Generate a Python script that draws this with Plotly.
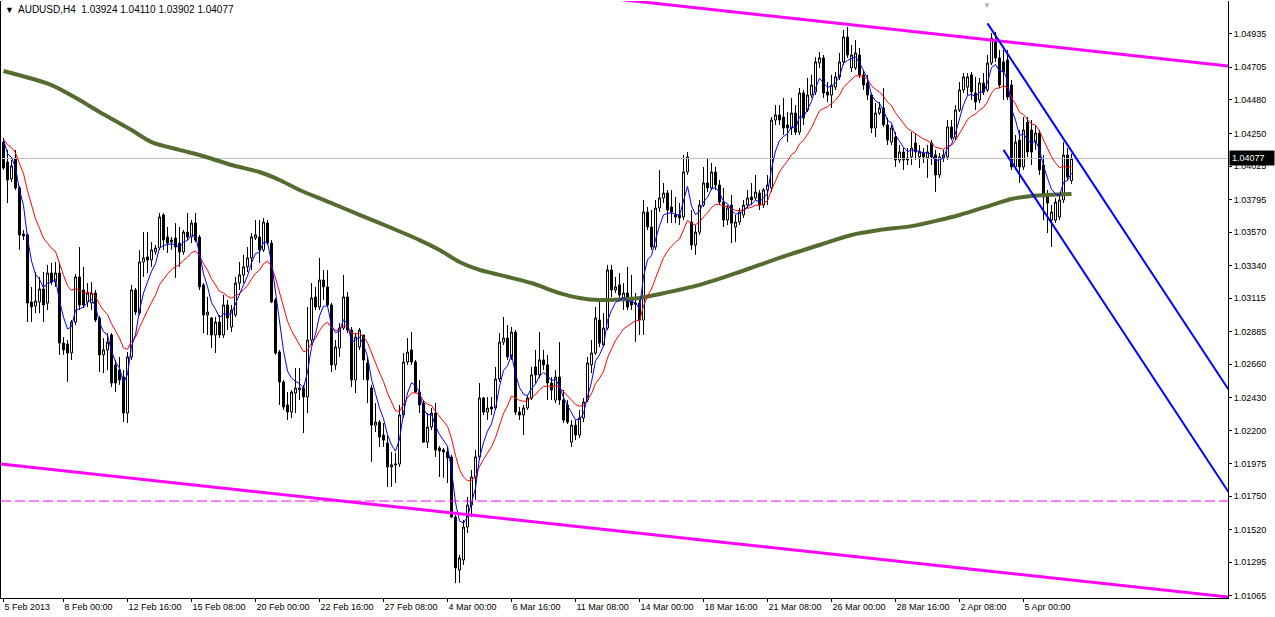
import plotly.graph_objects as go

# ---------------- data (AUDUSD H4, prices) ----------------
opens = [1.04190,1.04053,1.03936,1.04081,1.03874,1.03556,1.03550,1.03088,1.03061,1.03088,
1.03178,1.03081,1.03288,1.03226,1.03288,1.02805,1.02798,1.02737,1.02950,1.03261,
1.03171,1.03088,1.03081,1.03150,1.02978,1.02724,1.02758,1.02861,1.02655,1.02620,
1.02572,1.02323,1.02710,1.03171,1.03012,1.03364,1.03399,1.03378,1.03433,1.03460,
1.03688,1.03536,1.03515,1.03529,1.03494,1.03433,1.03570,1.03536,1.03632,1.03536,
1.03206,1.02999,1.02978,1.02861,1.02950,1.02861,1.03068,1.02916,1.02999,1.03219,
1.03275,1.03330,1.03392,1.03529,1.03536,1.03447,1.03632,1.03494,1.03102,1.02744,
1.02537,1.02379,1.02330,1.02461,1.02482,1.02496,1.02434,1.02826,1.03123,1.03054,
1.03240,1.03192,1.03068,1.02655,1.02771,1.02909,1.03123,1.02895,1.02551,1.02778,
1.02861,1.02668,1.02496,1.02240,1.02261,1.02172,1.02117,1.01952,1.01966,1.01972,
1.02310,1.02675,1.02758,1.02675,1.02468,1.02392,1.02123,1.02227,1.02323,1.02082,
1.02069,1.02055,1.02021,1.01607,1.01242,1.01311,1.01538,1.01690,1.01883,1.02021,
1.02427,1.02330,1.02365,1.02358,1.02558,1.02812,1.02840,1.02710,1.02881,1.02330,
1.02310,1.02358,1.02427,1.02641,1.02586,1.02689,1.02655,1.02530,1.02413,1.02572,
1.02413,1.02379,1.02123,1.02240,1.02172,1.02289,1.02413,1.02655,1.02737,1.02964,
1.02792,1.02909,1.03309,1.03171,1.03206,1.03102,1.03150,1.03102,1.03081,1.03081,
1.02964,1.03708,1.03605,1.03467,1.03736,1.03805,1.03839,1.03743,1.03688,1.03688,
1.03674,1.03984,1.03639,1.03481,1.03570,1.03756,1.03908,1.03874,1.03984,1.03894,
1.03777,1.03653,1.03756,1.03605,1.03639,1.03688,1.03756,1.03812,1.03805,1.03839,
1.03756,1.03860,1.03874,1.04342,1.04377,1.04363,1.04308,1.04287,1.04390,1.04259,
1.04528,1.04411,1.04514,1.04535,1.04735,1.04770,1.04535,1.04514,1.04569,1.04639,
1.04742,1.04914,1.04701,1.04701,1.04790,1.04653,1.04597,1.04514,1.04287,1.04390,
1.04425,1.04308,1.04190,1.04225,1.04067,1.04122,1.04081,1.04088,1.04184,1.04088,
1.04115,1.04081,1.04184,1.04101,1.03963,1.04081,1.04088,1.04294,1.04225,1.04411,
1.04549,1.04569,1.04653,1.04528,1.04480,1.04597,1.04549,1.04735,1.04893,1.04770,
1.04742,1.04756,1.04583,1.04019,1.04204,1.04019,1.04328,1.04273,1.04190,1.04252,
1.04032,1.03812,1.03653,1.03653,1.03674,1.03791,1.04101,1.03924]

highs = [1.04218,1.04136,1.04067,1.04136,1.03888,1.03584,1.03563,1.03192,1.03295,1.03261,
1.03295,1.03344,1.03357,1.03364,1.03364,1.02847,1.02826,1.02964,1.03281,1.03467,
1.03330,1.03219,1.03226,1.03171,1.02992,1.02840,1.02874,1.02874,1.02689,1.02710,
1.02620,1.02744,1.03206,1.03185,1.03447,1.03570,1.03570,1.03501,1.03481,1.03701,
1.03701,1.03605,1.03536,1.03632,1.03605,1.03584,1.03701,1.03653,1.03701,1.03550,
1.03219,1.03123,1.02985,1.02985,1.02999,1.03137,1.03102,1.03068,1.03261,1.03364,
1.03413,1.03467,1.03563,1.03653,1.03653,1.03667,1.03653,1.03515,1.03116,1.02758,
1.02551,1.02468,1.02482,1.02634,1.02634,1.02517,1.03054,1.03219,1.03192,1.03392,
1.03309,1.03309,1.03081,1.02826,1.02943,1.03275,1.03157,1.02916,1.02874,1.02909,
1.02861,1.02710,1.02517,1.02392,1.02275,1.02254,1.02172,1.02055,1.02048,1.02379,
1.02737,1.02840,1.02881,1.02689,1.02551,1.02413,1.02323,1.02358,1.02392,1.02096,
1.02082,1.02089,1.02034,1.01620,1.01346,1.01586,1.01745,1.01931,1.02069,1.02530,
1.02434,1.02434,1.02434,1.02641,1.02874,1.02985,1.02930,1.02916,1.02895,1.02365,
1.02379,1.02448,1.02641,1.02758,1.02881,1.02758,1.02724,1.02572,1.02620,1.02812,
1.02482,1.02413,1.02275,1.02275,1.02344,1.02427,1.02710,1.02826,1.03054,1.03088,
1.03012,1.03344,1.03344,1.03261,1.03288,1.03219,1.03330,1.03275,1.03150,1.03123,
1.03791,1.03743,1.03722,1.03791,1.03998,1.03908,1.03860,1.03860,1.03812,1.03770,
1.04101,1.04122,1.03722,1.03619,1.03791,1.04019,1.04081,1.04046,1.04019,1.03929,
1.03874,1.03756,1.03825,1.03688,1.03736,1.03791,1.03860,1.03908,1.03963,1.03860,
1.03874,1.03963,1.04363,1.04445,1.04445,1.04494,1.04397,1.04494,1.04445,1.04563,
1.04549,1.04632,1.04653,1.04776,1.04811,1.04790,1.04604,1.04653,1.04673,1.04804,
1.04962,1.04983,1.04859,1.04893,1.04838,1.04687,1.04653,1.04528,1.04459,1.04466,
1.04563,1.04356,1.04308,1.04259,1.04170,1.04149,1.04149,1.04259,1.04252,1.04170,
1.04149,1.04170,1.04204,1.04136,1.04115,1.04136,1.04342,1.04342,1.04445,1.04604,
1.04666,1.04666,1.04673,1.04639,1.04632,1.04666,1.04790,1.04941,1.04948,1.04825,
1.04825,1.04825,1.04618,1.04239,1.04273,1.04363,1.04363,1.04342,1.04308,1.04273,
1.04101,1.03860,1.03756,1.03805,1.03825,1.04190,1.04149,1.04110]

lows = [1.03998,1.03770,1.03915,1.03860,1.03447,1.03515,1.02950,1.02950,1.03012,1.03012,
1.02950,1.03033,1.03206,1.03192,1.02724,1.02724,1.02537,1.02689,1.02930,1.03033,
1.03047,1.03054,1.03033,1.02950,1.02606,1.02599,1.02620,1.02503,1.02468,1.02517,
1.02261,1.02254,1.02689,1.02999,1.02999,1.03261,1.03288,1.03330,1.03413,1.03447,
1.03447,1.03426,1.03447,1.03254,1.03330,1.03413,1.03515,1.03494,1.03501,1.03171,
1.02874,1.02861,1.02771,1.02737,1.02840,1.02840,1.02895,1.02881,1.02985,1.03171,
1.03219,1.03295,1.03309,1.03515,1.03357,1.03433,1.03481,1.03081,1.02724,1.02379,
1.02344,1.02275,1.02289,1.02323,1.02413,1.02185,1.02323,1.02792,1.03033,1.03033,
1.03102,1.03054,1.02606,1.02620,1.02710,1.02895,1.02874,1.02503,1.02461,1.02758,
1.02551,1.02392,1.01986,1.02192,1.02089,1.02089,1.01814,1.01814,1.01841,1.01952,
1.02289,1.02655,1.02655,1.02461,1.02323,1.02117,1.02082,1.02206,1.02021,1.01883,
1.01876,1.01841,1.01600,1.01152,1.01152,1.01277,1.01497,1.01607,1.01724,1.02000,
1.02310,1.02275,1.02310,1.02344,1.02537,1.02792,1.02689,1.02689,1.02310,1.02275,
1.02172,1.02344,1.02413,1.02530,1.02565,1.02620,1.02413,1.02413,1.02392,1.02379,
1.02254,1.02247,1.02089,1.02137,1.02151,1.02261,1.02399,1.02599,1.02724,1.02778,
1.02778,1.02895,1.03123,1.03150,1.03116,1.03033,1.03033,1.03033,1.02812,1.02861,
1.02861,1.03584,1.03447,1.03447,1.03708,1.03770,1.03632,1.03632,1.03632,1.03619,
1.03653,1.03963,1.03447,1.03413,1.03550,1.03743,1.03846,1.03860,1.03860,1.03756,
1.03605,1.03619,1.03494,1.03501,1.03619,1.03667,1.03736,1.03756,1.03791,1.03722,
1.03736,1.03756,1.03846,1.04308,1.04308,1.04239,1.04190,1.04239,1.04239,1.04239,
1.04308,1.04397,1.04494,1.04514,1.04701,1.04494,1.04466,1.04425,1.04549,1.04618,
1.04721,1.04770,1.04673,1.04687,1.04632,1.04549,1.04480,1.04252,1.04225,1.04377,
1.04294,1.04170,1.04170,1.04019,1.04046,1.03998,1.04032,1.04032,1.04067,1.04012,
1.04046,1.03943,1.04032,1.03846,1.03943,1.04053,1.04067,1.04204,1.04204,1.04397,
1.04528,1.04514,1.04480,1.04411,1.04459,1.04514,1.04535,1.04721,1.04742,1.04563,
1.04480,1.04480,1.03998,1.03998,1.03908,1.03998,1.04088,1.04032,1.04136,1.03963,
1.03653,1.03563,1.03467,1.03632,1.03653,1.03770,1.03929,1.03902]

closes = [1.04012,1.03929,1.04026,1.03874,1.03550,1.03543,1.03081,1.03054,1.03095,1.03178,
1.03068,1.03288,1.03226,1.03288,1.02805,1.02758,1.02737,1.02950,1.03261,1.03068,
1.03068,1.03150,1.03150,1.02964,1.02724,1.02758,1.02812,1.02530,1.02530,1.02551,
1.02323,1.02710,1.03171,1.03019,1.03364,1.03392,1.03378,1.03447,1.03460,1.03674,
1.03515,1.03494,1.03501,1.03467,1.03433,1.03570,1.03536,1.03632,1.03515,1.03192,
1.02999,1.03019,1.02861,1.02950,1.02861,1.03068,1.02978,1.03033,1.03219,1.03275,
1.03330,1.03392,1.03536,1.03550,1.03447,1.03639,1.03494,1.03088,1.02737,1.02537,
1.02365,1.02330,1.02468,1.02496,1.02496,1.02434,1.02826,1.03116,1.03054,1.03240,
1.03192,1.03068,1.02655,1.02778,1.02909,1.03123,1.02895,1.02551,1.02847,1.02895,
1.02689,1.02551,1.02240,1.02261,1.02158,1.02137,1.01952,1.01966,1.01972,1.02310,
1.02675,1.02744,1.02675,1.02468,1.02379,1.02123,1.02227,1.02323,1.02069,1.02062,
1.02055,1.02014,1.01607,1.01256,1.01325,1.01538,1.01690,1.01883,1.02021,1.02427,
1.02330,1.02358,1.02351,1.02558,1.02812,1.02840,1.02710,1.02881,1.02330,1.02310,
1.02358,1.02427,1.02586,1.02586,1.02689,1.02655,1.02530,1.02482,1.02572,1.02413,
1.02275,1.02261,1.02240,1.02172,1.02289,1.02399,1.02668,1.02737,1.02978,1.02805,
1.02909,1.03309,1.03171,1.03192,1.03137,1.03150,1.03054,1.03068,1.03074,1.02964,
1.03708,1.03605,1.03467,1.03736,1.03805,1.03839,1.03722,1.03708,1.03674,1.03667,
1.03984,1.04088,1.03481,1.03570,1.03756,1.03908,1.03874,1.03984,1.03894,1.03777,
1.03653,1.03736,1.03632,1.03639,1.03708,1.03756,1.03805,1.03791,1.03846,1.03756,
1.03860,1.03894,1.04342,1.04377,1.04342,1.04287,1.04287,1.04390,1.04259,1.04528,
1.04356,1.04514,1.04583,1.04742,1.04770,1.04528,1.04514,1.04583,1.04639,1.04742,
1.04914,1.04790,1.04790,1.04804,1.04653,1.04583,1.04514,1.04287,1.04390,1.04425,
1.04308,1.04204,1.04287,1.04067,1.04122,1.04067,1.04067,1.04149,1.04122,1.04122,
1.04088,1.04122,1.04088,1.03963,1.04088,1.04101,1.04294,1.04218,1.04411,1.04549,
1.04639,1.04639,1.04535,1.04466,1.04597,1.04535,1.04735,1.04907,1.04770,1.04583,
1.04673,1.04501,1.04019,1.04190,1.04019,1.04273,1.04122,1.04122,1.04252,1.03998,
1.03812,1.03770,1.03708,1.03777,1.03791,1.04101,1.03950,1.04077]

# slow (olive) moving average at bar positions
olive_idx = [0, 12, 19, 24, 32, 37, 44, 49, 57, 64, 69, 74, 82, 89, 97, 104, 109, 114, 119, 124,
             132, 139, 144, 149, 159, 164, 174, 184, 194, 204, 212, 219, 227, 234, 239, 247, 252, 257, 267]
olive_val = [1.04680, 1.04583, 1.04480, 1.04397, 1.04273, 1.04190, 1.04136, 1.04101, 1.04032, 1.03984,
             1.03929, 1.03860, 1.03770, 1.03688, 1.03598, 1.03515, 1.03447, 1.03364, 1.03309, 1.03275,
             1.03219, 1.03150, 1.03116, 1.03102, 1.03116, 1.03143, 1.03206, 1.03295, 1.03392, 1.03481,
             1.03550, 1.03584, 1.03611, 1.03653, 1.03688, 1.03756, 1.03798, 1.03819, 1.03832]

# moving-average settings (values before the first visible bar)
red_period, red_start = 14, 1.04240
blue_period, blue_start = 5, 1.04300

# time axis labels (bar index -> label)
xtick_idx = [0, 15, 31, 47, 63, 79, 95, 111, 127, 143, 159, 175, 191, 207, 223, 239, 255]
xtick_txt = ["5 Feb 2013", "8 Feb 00:00", "12 Feb 16:00", "15 Feb 08:00", "20 Feb 00:00",
             "22 Feb 16:00", "27 Feb 08:00", "4 Mar 00:00", "6 Mar 16:00", "11 Mar 08:00",
             "14 Mar 00:00", "18 Mar 16:00", "21 Mar 08:00", "26 Mar 00:00", "28 Mar 16:00",
             "2 Apr 08:00", "5 Apr 00:00"]

# price axis labels
ytick_val = [1.04935, 1.04705, 1.04480, 1.04250, 1.04025, 1.03795, 1.03570, 1.03340, 1.03115,
             1.02885, 1.02660, 1.02430, 1.02200, 1.01975, 1.01750, 1.01520, 1.01295, 1.01065]

# drawn objects (bar index, price)
top_line_idx, top_line_val = [150, 306.25], [1.05185, 1.04714]
bot_line_idx, bot_line_val = [-0.75, 306.25], [1.01972, 1.01056]
hline_level = 1.01717
chan_up_idx, chan_up_val = [246, 306.25], [1.05008, 1.02485]
chan_lo_idx, chan_lo_val = [250, 306.25], [1.04136, 1.01779]
shift_marker_idx = 245.75

symbol_text = "AUDUSD,H4"
last_ohlc = [opens[-1], highs[-1], lows[-1], closes[-1]]

x_range = [-0.625, 306.125]
y_range = [1.01049, 1.05162]

# ---------------- indicators ----------------
def ema(vals, period, start):
    a = 2.0 / (period + 1)
    out, prev = [], start
    for v in vals:
        prev = prev + a * (v - prev)
        out.append(prev)
    return out

bars = list(range(len(closes)))
red_ma = ema(closes, red_period, red_start)
blue_ma = ema(closes, blue_period, blue_start)

# ---------------- figure ----------------
fig = go.Figure()

# current price line
fig.add_trace(go.Scatter(x=x_range, y=[closes[-1]] * 2, mode="lines",
                         line=dict(color="#C0C0C0", width=1), hoverinfo="skip"))

fig.add_trace(go.Candlestick(
    x=bars, open=opens, high=highs, low=lows, close=closes,
    increasing=dict(line=dict(color="black", width=1), fillcolor="white"),
    decreasing=dict(line=dict(color="black", width=1), fillcolor="black"),
    hoverinfo="skip"))

fig.add_trace(go.Scatter(x=olive_idx, y=olive_val, mode="lines",
                         line=dict(color="#556B2F", width=4, shape="spline", smoothing=0.8),
                         hoverinfo="skip"))
fig.add_trace(go.Scatter(x=bars, y=red_ma, mode="lines",
                         line=dict(color="#FF0000", width=1), hoverinfo="skip"))
fig.add_trace(go.Scatter(x=bars, y=blue_ma, mode="lines",
                         line=dict(color="#0000FF", width=1), hoverinfo="skip"))

# trend lines
fig.add_trace(go.Scatter(x=x_range, y=[hline_level] * 2, mode="lines",
                         line=dict(color="#FF00FF", width=1, dash="10px,4px"), hoverinfo="skip"))
fig.add_trace(go.Scatter(x=top_line_idx, y=top_line_val, mode="lines",
                         line=dict(color="#FF00FF", width=3), hoverinfo="skip"))
fig.add_trace(go.Scatter(x=bot_line_idx, y=bot_line_val, mode="lines",
                         line=dict(color="#FF00FF", width=3), hoverinfo="skip"))
fig.add_trace(go.Scatter(x=chan_up_idx, y=chan_up_val, mode="lines",
                         line=dict(color="#0000FF", width=2), hoverinfo="skip"))
fig.add_trace(go.Scatter(x=chan_lo_idx, y=chan_lo_val, mode="lines",
                         line=dict(color="#0000FF", width=2), hoverinfo="skip"))

nb = "\u00a0"
header = symbol_text + nb * 2 + " ".join(f"{v:.5f}" for v in last_ohlc)

fig.update_layout(
    width=1275, height=617,
    margin=dict(l=1, r=47, t=1, b=19),
    paper_bgcolor="white", plot_bgcolor="white",
    showlegend=False, hovermode=False,
    boxgap=0.5, boxgroupgap=0,
    font=dict(family="Liberation Sans, Arial, sans-serif", size=9, color="black"),
    xaxis=dict(range=x_range, tickmode="array", tickvals=xtick_idx, ticktext=xtick_txt,
               ticks="outside", ticklen=3, tickcolor="black", ticklabelposition="outside right",
               showgrid=False, zeroline=False, showline=True, linecolor="black", linewidth=1,
               mirror=False, rangeslider=dict(visible=False), fixedrange=True),
    yaxis=dict(side="right", range=y_range, tickmode="array", tickvals=ytick_val,
               ticktext=[f"{v:.5f}" for v in ytick_val],
               ticks="outside", ticklen=3, tickcolor="black",
               showgrid=False, zeroline=False, showline=True, linecolor="black", linewidth=1,
               mirror=True, fixedrange=True),
    annotations=[
        dict(xref="paper", yref="paper", x=0, y=1, xanchor="left", yanchor="top",
             text="\u25bc", showarrow=False, xshift=2, yshift=-2, font=dict(size=9, color="black")),
        dict(xref="paper", yref="paper", x=0, y=1, xanchor="left", yanchor="top",
             text=header, showarrow=False, xshift=15, yshift=-1, font=dict(size=10, color="black")),
        dict(xref="x", yref="paper", x=shift_marker_idx, y=1, xanchor="center", yanchor="top",
             text="\u25bc", showarrow=False, yshift=2, font=dict(size=8, color="#B0B0B0")),
        dict(xref="paper", yref="y", x=1, y=closes[-1], xanchor="left", yanchor="middle",
             text=f"{closes[-1]:.5f}", showarrow=False, bgcolor="black", borderpad=2,
             width=40, align="left", xshift=1, font=dict(size=9, color="white")),
    ],
)

fig.write_html("out.html", config={"displayModeBar": False},
               post_script="document.body.style.margin='0px';document.body.style.overflow='hidden';")
